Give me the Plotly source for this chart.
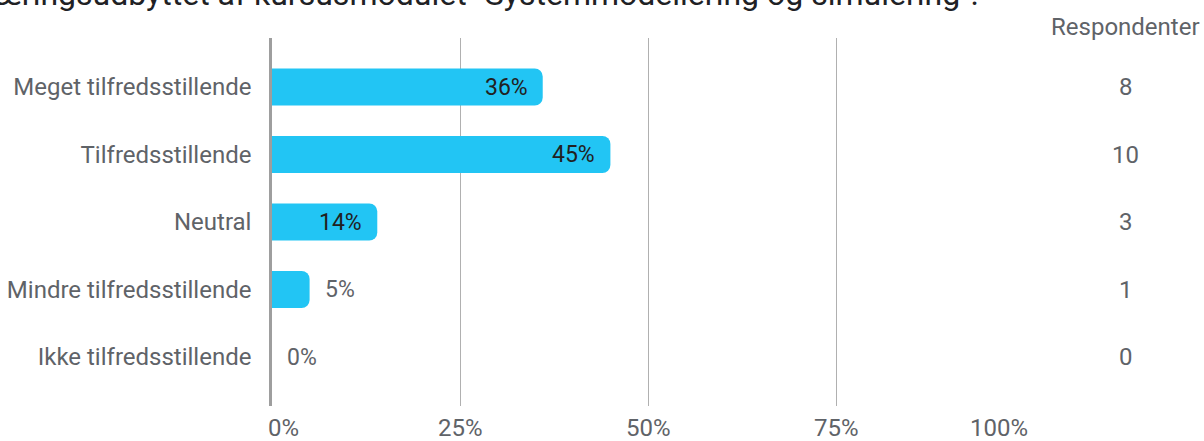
import plotly.graph_objects as go

title_text = 'læringsudbyttet af kursusmodulet "Systemmodellering og simulering".'
categories = ["Meget tilfredsstillende", "Tilfredsstillende", "Neutral",
              "Mindre tilfredsstillende", "Ikke tilfredsstillende"]
percent = [36, 45, 14, 5, 0]
respondents = [8, 10, 3, 1, 0]
x_ticks = [0, 25, 50, 75, 100]
x_tick_labels = ["0%", "25%", "50%", "75%", "100%"]
count_header = "Respondenter"

BAR = "#22c5f4"
GRAY = "#5f6368"
DARK = "#212121"
FONT = "Roboto"

fig = go.Figure()
fig.add_trace(go.Bar(
    x=percent, y=categories, orientation="h",
    marker=dict(color=BAR, line=dict(width=0)),
    hoverinfo="skip", showlegend=False,
))

ann = []
for cat, p in zip(categories, percent):
    inside = p >= 10
    ann.append(dict(
        x=p, y=cat, xref="x", yref="y", text=f"{p}%", showarrow=False,
        xanchor="right" if inside else "left",
        xshift=-13 if inside else 13,
        font=dict(family=FONT, size=23, color=DARK if inside else GRAY),
    ))
for cat, n in zip(categories, respondents):
    ann.append(dict(
        x=1.1356, y=cat, xref="paper", yref="y", text=str(n), showarrow=False,
        xanchor="center", font=dict(family=FONT, size=24, color=GRAY),
    ))
ann.append(dict(
    x=1.1356, y=1.030, xref="paper", yref="paper", text=count_header,
    showarrow=False, xanchor="center", yanchor="middle",
    font=dict(family=FONT, size=24, color=GRAY),
))
for i, (v, lab) in enumerate(zip(x_ticks, x_tick_labels)):
    first, last = i == 0, i == len(x_ticks) - 1
    ann.append(dict(
        x=v, y=-0.061, xref="x", yref="paper", text=lab, showarrow=False,
        xanchor="left" if first else ("right" if last else "center"),
        xshift=-6 if first else (6 if last else 0),
        yanchor="middle",
        font=dict(family=FONT, size=24, color=GRAY),
    ))
ann.append(dict(
    x=0.943, y=1.120, xref="paper", yref="paper", text=title_text,
    showarrow=False, xanchor="right", yanchor="middle",
    font=dict(family=FONT, size=32, color="#202124"),
))

fig.update_layout(
    width=1204, height=441,
    margin=dict(l=272, r=180, t=38, b=35, autoexpand=False),
    paper_bgcolor="white", plot_bgcolor="white",
    bargap=0.45, barcornerradius=8,
    font=dict(family=FONT, size=24, color=GRAY),
    annotations=ann,
    xaxis=dict(range=[0, 100], tickvals=x_ticks, showticklabels=False,
               showgrid=True, gridcolor="#b0b0b0", gridwidth=1,
               zeroline=False, showline=False, fixedrange=True,
               automargin=False),
    yaxis=dict(categoryorder="array", categoryarray=categories,
               range=[4.726, -0.726], showgrid=False, zeroline=False,
               showline=True, linecolor="#9e9e9e", linewidth=2.5,
               ticks="", ticklabelstandoff=13, automargin=False,
               fixedrange=True,
               tickfont=dict(family=FONT, size=24, color=GRAY)),
)

fig.write_html(
    "out.html",
    config={"displayModeBar": False},
    post_script="document.body.style.margin='0';document.body.style.padding='0';",
)
